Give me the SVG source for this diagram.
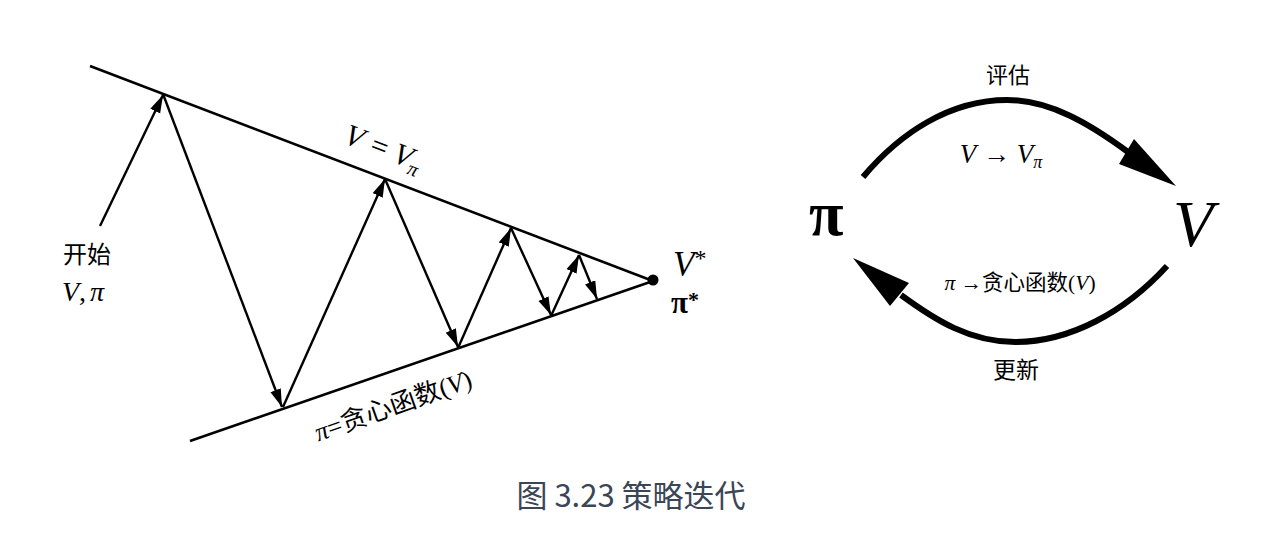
<svg xmlns="http://www.w3.org/2000/svg" width="1280" height="542" viewBox="0 0 1280 542">
<style>
.ln{stroke:#000;stroke-width:2.6;fill:none}
.arr{stroke:#000;stroke-width:2.4;fill:none;marker-end:url(#ah)}
.arc{stroke:#000;stroke-width:6;fill:none;stroke-linecap:butt}
.serif{font-family:"Liberation Serif","DejaVu Serif",serif;fill:#000}
.it{font-style:italic}
.cjk{font-family:"Noto Sans CJK SC","Noto Sans",sans-serif;fill:#000}
.cap{font-family:"Noto Sans CJK SC","Noto Sans",sans-serif;fill:#3a4656;font-size:31px}
</style>
<defs>
<marker id="ah" markerUnits="userSpaceOnUse" markerWidth="22" markerHeight="12" refX="18" refY="5.5" orient="auto">
<path d="M0,0 L18,5.5 L0,11 z" fill="#000"/>
</marker>
</defs>
<rect width="1280" height="542" fill="#fff"/>

<g id="convergence-lines">
<line class="ln" x1="90" y1="66" x2="653" y2="281"/>
<line class="ln" x1="190" y1="441" x2="653" y2="281"/>
<circle cx="653" cy="280" r="5.5" fill="#000"/>
</g>

<g id="connectors">
<line class="arr" x1="100" y1="226" x2="163" y2="95"/>
<line class="arr" x1="163" y1="94" x2="282" y2="407"/>
<line class="arr" x1="283" y1="407" x2="385" y2="179"/>
<line class="arr" x1="385" y1="179" x2="458" y2="347"/>
<line class="arr" x1="458" y1="348" x2="511" y2="228"/>
<line class="arr" x1="511" y1="228" x2="551" y2="315"/>
<line class="arr" x1="551" y1="316" x2="579" y2="255"/>
<line class="arr" x1="579" y1="255" x2="597" y2="299"/>
<path class="arc" d="M863,177 C900,133 950,100 1007,100 C1050,100 1090,124 1128,152"/>
<polygon points="1176,186 1134,139 1119,164" fill="#000"/>
<path class="arc" d="M1167,266 C1125,312 1070,342 1015,342 C970,342 935,320 901,295"/>
<polygon points="853,258 909,283 890,306" fill="#000"/>
</g>

<g id="label-start">
<text class="cjk" x="63" y="263" font-size="24">开始</text>
<text class="serif it" x="62" y="301" font-size="28">V<tspan font-style="normal">,</tspan><tspan dx="4">π</tspan></text>
</g>

<g id="label-v-eq">
<text class="serif" font-size="30" transform="translate(380,157) rotate(21)" text-anchor="middle"><tspan class="it">V</tspan> <tspan dx="2">=</tspan> <tspan class="it">V</tspan><tspan class="it" font-size="20" dy="6">π</tspan></text>
</g>

<g id="label-greedy">
<text class="serif" font-size="26" transform="translate(396,414) rotate(-19.5)" text-anchor="middle"><tspan class="it">π</tspan>=<tspan font-family="'Noto Sans CJK SC',sans-serif">贪心函数</tspan>(<tspan class="it">V</tspan>)</text>
</g>

<g id="label-optimum">
<text class="serif it" x="673" y="276" font-size="35">V<tspan font-style="normal" font-size="24" dy="-10">*</tspan></text>
<text class="serif" x="671" y="313" font-size="31" font-weight="bold">π<tspan font-size="22" dy="-6">*</tspan></text>
</g>

<g id="node-pi">
<text class="serif" x="809" y="235" font-size="63" font-weight="bold">π</text>
</g>

<g id="node-v">
<text class="serif it" x="1173" y="246" font-size="66">V</text>
</g>

<g id="label-eval">
<text class="cjk" x="1008" y="83" font-size="22" text-anchor="middle">评估</text>
<text class="serif" x="1001" y="163" font-size="27" text-anchor="middle"><tspan class="it">V</tspan> → <tspan class="it">V</tspan><tspan class="it" font-size="18" dy="5">π</tspan></text>
</g>

<g id="label-update">
<text class="serif" x="1020" y="290" font-size="21.5" text-anchor="middle"><tspan class="it">π</tspan> →<tspan font-family="'Noto Sans CJK SC',sans-serif">贪心函数</tspan>(<tspan class="it">V</tspan>)</text>
<text class="cjk" x="1016" y="378" font-size="23" text-anchor="middle">更新</text>
</g>

<g id="caption">
<text class="cap" x="631" y="507" text-anchor="middle">图 3.23 策略迭代</text>
</g>
</svg>
